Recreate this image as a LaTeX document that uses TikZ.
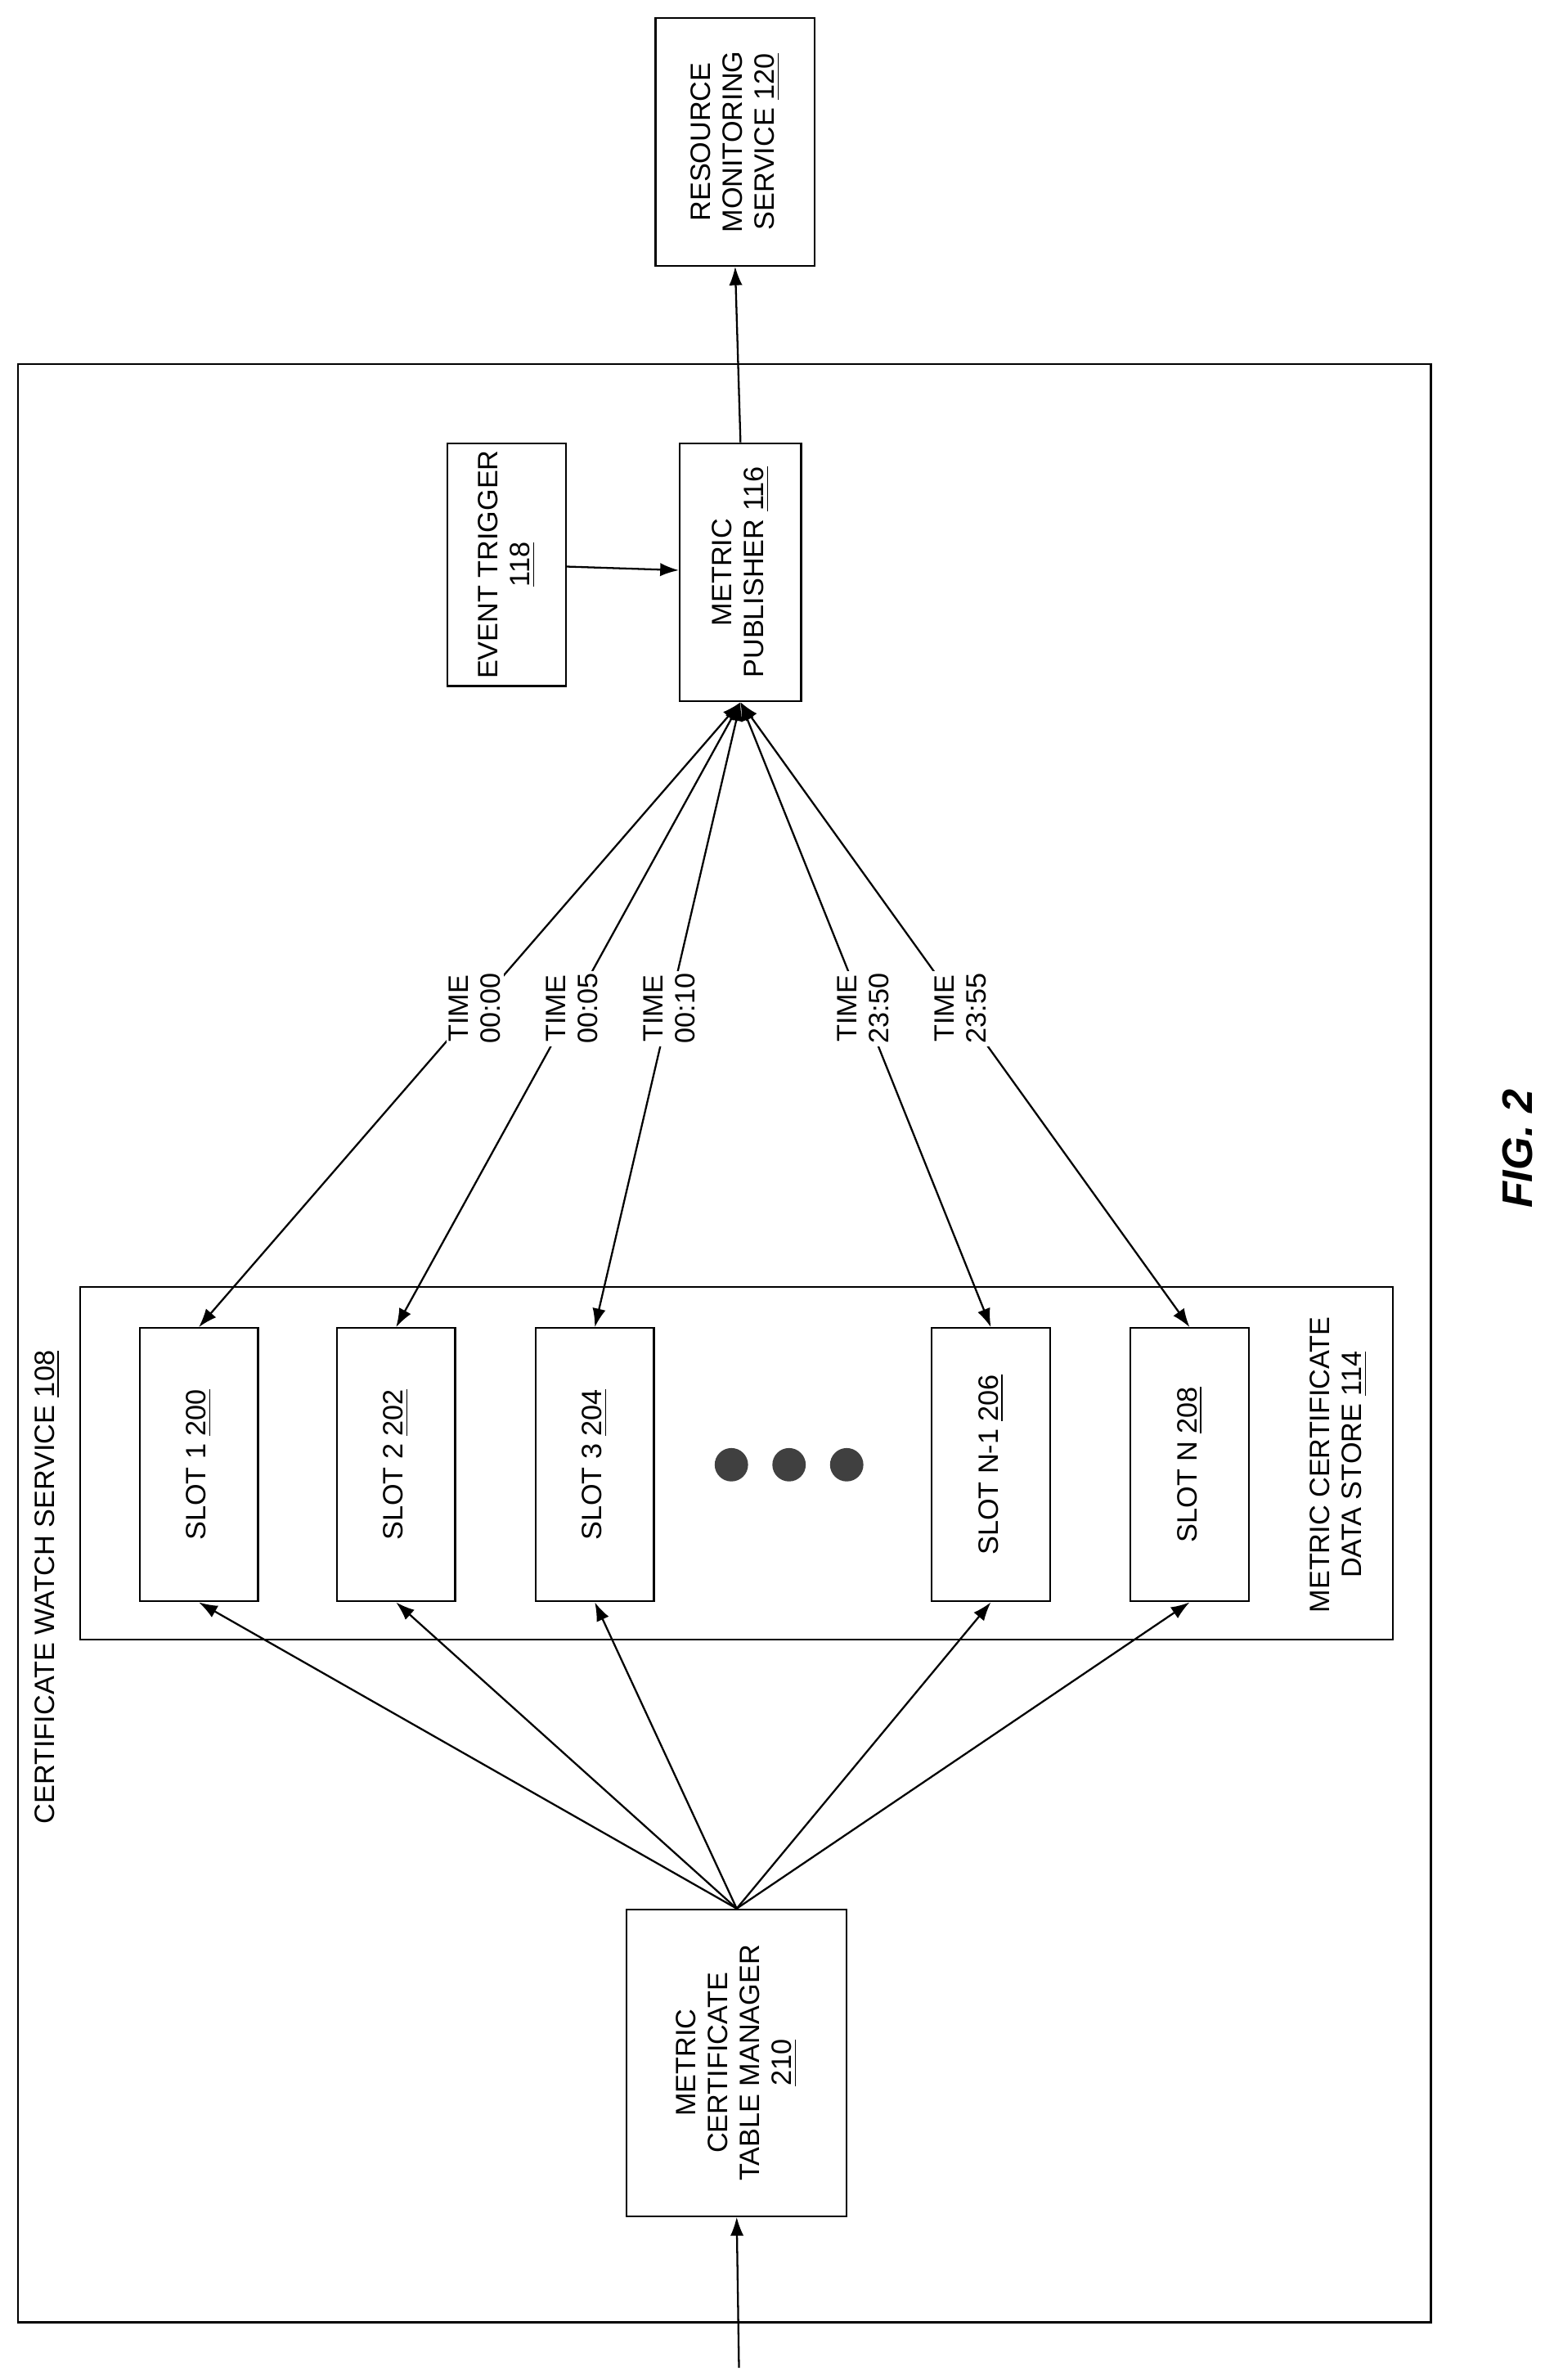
\documentclass[tikz,border=0pt]{standalone}
\usepackage{fontspec}
\setmainfont{Liberation Sans}
\usetikzlibrary{arrows.meta}
\begin{document}
\begin{tikzpicture}[
        x=0.2mm, y=-0.2mm,
        >={Latex[length=7pt,width=5pt]},
        line width=0.7pt,
        font=\fontsize{10.5}{12}\selectfont,
        box/.style = {draw, inner sep=0pt},
        lbl/.style = {rotate=90, align=center},
        tlbl/.style = {rotate=90, align=center, fill=white, inner sep=1pt}
    ]
    \useasboundingbox (0,0) rectangle (1024,1568);
    % outer service
    \node[box, minimum width=931*0.2mm, minimum height=1290*0.2mm] (cws) at (477.5,885) {};
    \node[lbl, anchor=west] at (31,1208) {CERTIFICATE WATCH SERVICE \underline{108}};
    % resource monitoring
    \node[box, minimum width=105*0.2mm, minimum height=163*0.2mm] (rms) at (484.5,93.5) {};
    \node[lbl] at (rms) {RESOURCE\\MONITORING\\SERVICE \underline{120}};
    % event trigger and publisher
    \node[box, minimum width=78*0.2mm, minimum height=160*0.2mm] (evt) at (334,372) {};
    \node[lbl] at (evt) {EVENT TRIGGER\\\underline{118}};
    \node[box, minimum width=80*0.2mm, minimum height=170*0.2mm] (pub) at (488,377) {};
    \node[lbl] at (pub) {METRIC\\PUBLISHER \underline{116}};
    \draw[->] (evt) -- (pub);
    \draw[->] (pub.north) -- (rms.south);
    % data store
    \node[box, minimum width=865*0.2mm, minimum height=232*0.2mm] (mds) at (485.5,964) {};
    \node[lbl] at (882,965) {METRIC CERTIFICATE\\DATA STORE \underline{114}};
    \foreach \n/\x/\t in {s1/131/SLOT 1 \underline{200}, s2/261/SLOT 2 \underline{202},
            s3/392/SLOT 3 \underline{204}, s4/653/SLOT N-1 \underline{206}, s5/784/SLOT N \underline{208}} {
        \node[box, minimum width=78*0.2mm, minimum height=180*0.2mm] (\n) at (\x,965) {};
        \node[lbl] at (\n) {\t};
    }
    \foreach \x in {482,520,558}
        \fill[black!75] (\x,965) circle (11);
    % table manager
    \node[box, minimum width=145*0.2mm, minimum height=202*0.2mm] (mgr) at (485.5,1359) {};
    \node[lbl] at (mgr) {METRIC\\CERTIFICATE\\TABLE MANAGER\\\underline{210}};
    \coordinate (in) at (487,1560);
    \draw[->] (in) -- (mgr.south);
    % slot connectors
    \foreach \n/\t in {s1/00:00, s2/00:05, s3/00:10, s4/23:50, s5/23:55} {
        \draw[<->] (pub.south) -- node[tlbl, pos=0.49] {TIME\\\t} (\n.north);
        \draw[->] (mgr.north) -- (\n.south);
    }
    \node[rotate=90, font=\fontsize{16}{18}\selectfont\bfseries\itshape] (fig) at (1000,757) {FIG. 2};
\end{tikzpicture}
\end{document}
